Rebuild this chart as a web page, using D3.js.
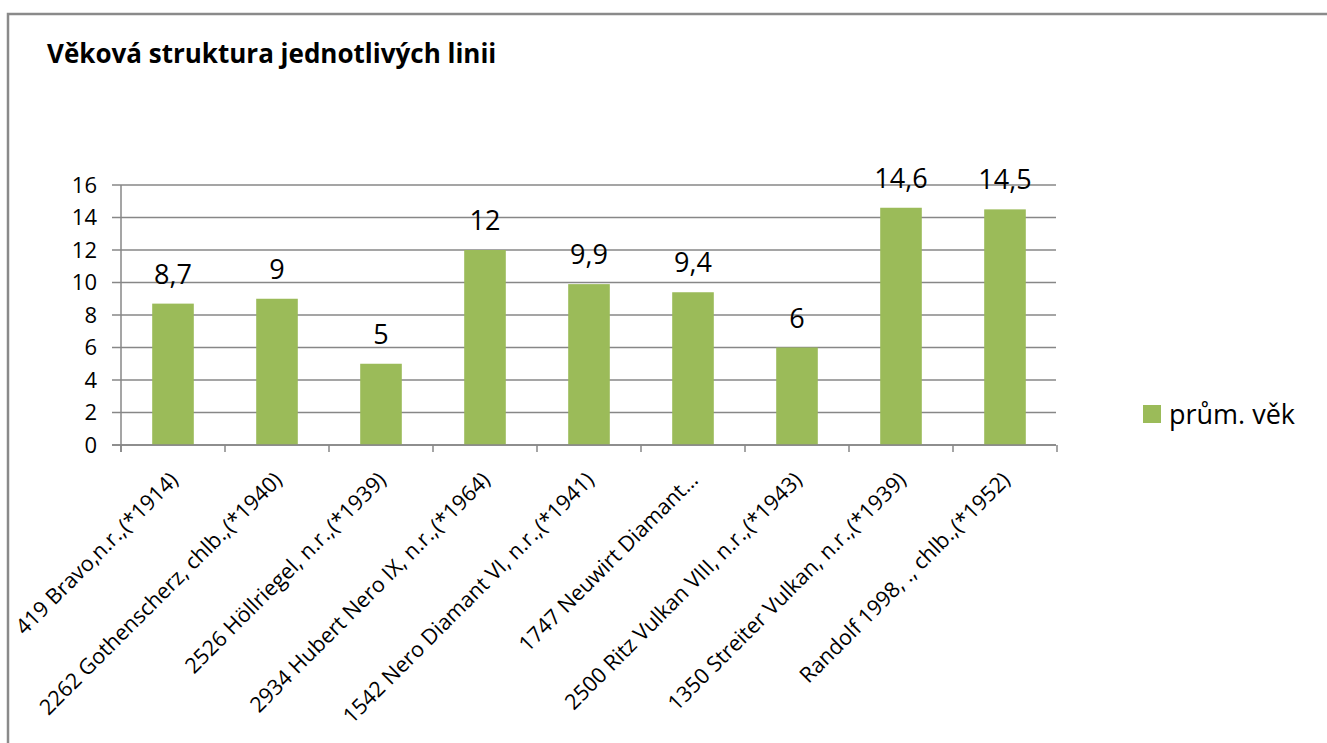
<!DOCTYPE html>
<html>
<head>
<meta charset="utf-8">
<script src="https://cdn.jsdelivr.net/npm/d3@7"></script>
<style>
  html, body { margin: 0; padding: 0; background: #fff; }
  svg { display: block; }
  text { font-family: "Open Sans", Lato, sans-serif; fill: #000; }
</style>
</head>
<body>
<svg id="chart" width="1327" height="743"></svg>
<script>
const title = "Věková struktura jednotlivých linii";
const categories = [
  "419 Bravo,n.r.,(*1914)",
  "2262 Gothenscherz, chlb.,(*1940)",
  "2526 Höllriegel, n.r.,(*1939)",
  "2934 Hubert Nero IX, n.r.,(*1964)",
  "1542 Nero Diamant VI, n.r.,(*1941)",
  "1747 Neuwirt Diamant…",
  "2500 Ritz Vulkan VIII, n.r.,(*1943)",
  "1350 Streiter Vulkan, n.r.,(*1939)",
  "Randolf 1998, ., chlb.,(*1952)"
];
const values = [8.7, 9, 5, 12, 9.9, 9.4, 6, 14.6, 14.5];
const valueLabels = ["8,7", "9", "5", "12", "9,9", "9,4", "6", "14,6", "14,5"];
const yTicks = [0, 2, 4, 6, 8, 10, 12, 14, 16];
const seriesName = "prům. věk";

const svg = d3.select("#chart");
const barColor = "#9BBB59";
const gridColor = "#878787";

// frame
svg.append("path")
  .attr("d", "M8,743 L8,14 L1327,14")
  .attr("fill", "none").attr("stroke", "#8a8a8a").attr("stroke-width", 2.5);

svg.append("text")
  .attr("x", 47).attr("y", 63)
  .style("font-weight", "bold").style("font-size", "26px")
  .text(title);

const pLeft = 121, pRight = 1057, pTop = 185, pBottom = 445;
const x = d3.scaleBand().domain(categories).range([pLeft, pRight]).paddingInner(0.6).paddingOuter(0.3);
const y = d3.scaleLinear().domain([0, 16]).range([pBottom, pTop]);

// gridlines
svg.append("g").selectAll("line").data(yTicks).join("line")
  .attr("x1", pLeft - 9).attr("x2", pRight - 1)
  .attr("y1", d => y(d)).attr("y2", d => y(d))
  .attr("stroke", gridColor).attr("stroke-width", 1.5);

// y axis line
svg.append("line").attr("x1", pLeft).attr("x2", pLeft).attr("y1", pTop).attr("y2", pBottom + 7)
  .attr("stroke", gridColor).attr("stroke-width", 1.5);

// y labels
svg.append("g").selectAll("text").data(yTicks).join("text")
  .attr("x", 97).attr("y", d => y(d)).attr("dy", "0.36em")
  .attr("text-anchor", "end").style("font-size", "22px")
  .text(d => d);

// bars
svg.append("g").selectAll("rect").data(values).join("rect")
  .attr("x", (d, i) => x(categories[i]))
  .attr("y", d => y(d))
  .attr("width", x.bandwidth())
  .attr("height", d => y(0) - y(d))
  .attr("fill", barColor);

// x axis line + ticks
svg.append("line").attr("x1", pLeft - 9).attr("x2", pRight - 1).attr("y1", pBottom).attr("y2", pBottom)
  .attr("stroke", gridColor).attr("stroke-width", 1.5);
const step = x.step();
svg.append("g").selectAll("line").data(d3.range(categories.length + 1)).join("line")
  .attr("x1", i => pLeft + i * step).attr("x2", i => pLeft + i * step)
  .attr("y1", pBottom).attr("y2", pBottom + 7)
  .attr("stroke", gridColor).attr("stroke-width", 1.5);

// data labels
svg.append("g").selectAll("text").data(values).join("text")
  .attr("x", (d, i) => x(categories[i]) + x.bandwidth() / 2)
  .attr("y", d => y(d) - 20)
  .attr("text-anchor", "middle").style("font-size", "27px")
  .text((d, i) => valueLabels[i]);

// category labels
svg.append("g").selectAll("text").data(categories).join("text")
  .attr("transform", d => `translate(${x(d) + x.bandwidth() / 2 + 1},${pBottom + 31}) rotate(-45)`)
  .attr("text-anchor", "end").attr("dy", "0.35em")
  .style("font-size", "21.5px")
  .text(d => d);

// legend
svg.append("rect").attr("x", 1143).attr("y", 405).attr("width", 18).attr("height", 18).attr("fill", barColor);
svg.append("text").attr("x", 1169).attr("y", 414).attr("dy", "0.36em")
  .style("font-size", "27px").text(seriesName);
</script>
</body>
</html>
